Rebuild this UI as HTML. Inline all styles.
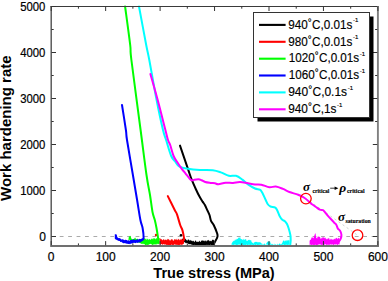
<!DOCTYPE html>
<html><head><meta charset="utf-8"><style>
html,body{margin:0;padding:0;background:#fff;}
svg{display:block;}
text{font-family:"Liberation Sans",sans-serif;}
</style></head><body>
<svg width="388" height="281" viewBox="0 0 388 281">
<rect width="388" height="281" fill="#fff"/>
<line x1="51.3" y1="236.5" x2="377" y2="236.5" stroke="#aaa" stroke-width="1" stroke-dasharray="3.8 4.63"/>
<line x1="305.9" y1="198.6" x2="357.5" y2="235.2" stroke="#bbb" stroke-width="0.7" stroke-dasharray="2.2 2.8"/>
<g stroke="none">
<polygon points="182.0,238.1 182.5,238.9 183.0,238.8 183.5,238.0 184.0,238.1 184.5,238.3 185.0,239.1 185.5,238.6 186.0,239.8 186.5,239.8 187.0,240.7 187.5,240.6 188.0,239.3 188.5,239.7 189.0,239.6 189.5,240.7 190.0,240.6 190.5,239.7 191.0,241.0 191.5,240.4 192.0,240.7 192.5,241.5 193.0,240.5 193.5,241.1 194.0,241.6 194.5,242.2 195.0,241.1 195.5,240.6 196.0,240.4 196.5,241.9 197.0,242.1 197.5,241.8 198.0,241.6 198.5,242.1 199.0,241.4 199.5,240.6 200.0,241.8 200.5,242.1 201.0,241.2 201.5,240.4 202.0,240.6 202.5,240.4 203.0,240.5 203.5,240.9 204.0,240.3 204.5,241.1 205.0,241.6 205.5,240.5 206.0,240.6 206.5,241.8 207.0,240.2 207.5,240.2 208.0,240.9 208.5,239.7 209.0,240.3 209.5,241.5 210.0,240.5 210.5,240.9 211.0,241.3 211.5,241.2 212.0,240.3 212.5,239.7 213.0,239.6 213.5,239.9 214.0,240.2 214.0,245.0 213.5,245.0 213.0,244.9 212.5,245.5 212.0,245.1 211.5,245.5 211.0,245.5 210.5,244.5 210.0,245.1 209.5,245.3 209.0,245.1 208.5,245.0 208.0,244.8 207.5,245.1 207.0,244.9 206.5,244.8 206.0,245.7 205.5,245.2 205.0,245.7 204.5,245.8 204.0,245.3 203.5,245.8 203.0,245.1 202.5,245.7 202.0,245.0 201.5,245.4 201.0,245.7 200.5,245.2 200.0,246.1 199.5,245.7 199.0,245.7 198.5,246.0 198.0,245.4 197.5,245.5 197.0,245.2 196.5,245.4 196.0,245.5 195.5,245.3 195.0,245.6 194.5,244.8 194.0,244.9 193.5,245.5 193.0,245.1 192.5,245.1 192.0,244.6 191.5,244.8 191.0,244.6 190.5,244.2 190.0,244.0 189.5,244.2 189.0,244.2 188.5,244.3 188.0,243.3 187.5,243.3 187.0,242.8 186.5,243.1 186.0,243.5 185.5,242.4 185.0,242.9 184.5,241.8 184.0,241.9 183.5,241.8 183.0,241.3 182.5,240.7 182.0,240.6" fill="#000"/>
<polygon points="159.5,238.3 160.0,238.6 160.5,238.5 161.0,239.8 161.5,239.1 162.0,239.4 162.5,240.5 163.0,239.8 163.5,239.1 164.0,239.7 164.5,240.6 165.0,238.9 165.5,239.9 166.0,239.8 166.5,239.7 167.0,240.4 167.5,239.1 168.0,238.8 168.5,239.6 169.0,239.3 169.5,240.3 170.0,240.5 170.5,240.4 171.0,239.3 171.5,239.6 172.0,239.1 172.5,239.4 173.0,240.7 173.5,240.6 174.0,240.6 174.5,239.0 175.0,238.9 175.5,239.6 176.0,240.0 176.5,239.6 177.0,238.5 177.5,240.2 178.0,239.9 178.5,238.8 179.0,239.1 179.5,240.4 180.0,239.3 180.5,239.9 181.0,238.6 181.5,240.1 182.0,238.5 182.5,240.1 183.0,238.8 183.5,238.3 184.0,239.9 184.0,244.2 183.5,243.5 183.0,244.3 182.5,244.6 182.0,244.9 181.5,245.0 181.0,244.3 180.5,244.5 180.0,245.5 179.5,244.8 179.0,245.2 178.5,245.2 178.0,244.7 177.5,245.0 177.0,244.8 176.5,244.9 176.0,244.5 175.5,245.0 175.0,244.3 174.5,244.4 174.0,244.6 173.5,245.4 173.0,244.8 172.5,245.2 172.0,244.7 171.5,244.4 171.0,245.0 170.5,245.3 170.0,245.4 169.5,245.6 169.0,244.7 168.5,245.3 168.0,245.3 167.5,244.8 167.0,245.1 166.5,245.4 166.0,244.2 165.5,244.3 165.0,245.2 164.5,244.2 164.0,244.2 163.5,244.0 163.0,244.5 162.5,245.1 162.0,244.0 161.5,244.3 161.0,244.1 160.5,244.9 160.0,244.3 159.5,244.1" fill="#f00"/>
<polygon points="128.5,239.1 129.0,235.9 129.5,236.8 130.0,235.8 130.5,235.9 131.0,237.4 131.5,238.8 132.0,239.1 132.5,239.4 133.0,238.9 133.5,238.9 134.0,238.8 134.5,238.4 135.0,237.6 135.5,238.1 136.0,239.3 136.5,238.7 137.0,239.3 137.5,238.6 138.0,239.0 138.5,240.0 139.0,239.6 139.5,240.3 140.0,239.7 140.5,239.5 141.0,239.4 141.5,239.5 142.0,239.9 142.5,240.3 143.0,239.5 143.5,240.0 144.0,238.5 144.5,238.3 145.0,238.3 145.5,239.6 146.0,238.3 146.5,239.4 147.0,239.9 147.5,238.6 148.0,239.0 148.5,240.3 149.0,238.7 149.5,239.5 150.0,238.9 150.5,239.9 151.0,239.5 151.5,238.3 152.0,239.5 152.5,238.3 153.0,239.7 153.5,238.3 154.0,238.1 154.5,238.5 155.0,238.7 155.5,239.5 156.0,238.0 156.5,238.8 157.0,237.8 157.5,238.9 158.0,237.6 158.5,238.9 159.0,238.0 159.5,238.1 159.5,243.4 159.0,243.8 158.5,244.0 158.0,244.5 157.5,244.0 157.0,243.6 156.5,244.4 156.0,244.8 155.5,244.0 155.0,244.9 154.5,244.0 154.0,244.8 153.5,244.2 153.0,245.0 152.5,245.0 152.0,244.4 151.5,244.2 151.0,244.3 150.5,243.7 150.0,244.1 149.5,244.2 149.0,244.4 148.5,245.0 148.0,244.6 147.5,245.3 147.0,245.4 146.5,244.5 146.0,245.3 145.5,245.3 145.0,244.8 144.5,244.1 144.0,244.2 143.5,243.6 143.0,244.4 142.5,243.4 142.0,244.0 141.5,243.9 141.0,243.3 140.5,243.4 140.0,243.0 139.5,242.8 139.0,243.1 138.5,242.6 138.0,242.2 137.5,242.4 137.0,242.5 136.5,242.1 136.0,242.0 135.5,241.7 135.0,241.9 134.5,241.1 134.0,240.8 133.5,241.4 133.0,241.7 132.5,241.6 132.0,241.0 131.5,241.5 131.0,240.6 130.5,240.6 130.0,240.1 129.5,239.8 129.0,240.4 128.5,240.5" fill="#0f0"/>
<polygon points="114.8,234.3 115.3,234.4 115.8,234.1 116.3,234.3 116.8,235.0 117.3,237.2 117.8,237.6 118.3,238.2 118.8,238.1 119.3,238.1 119.8,238.2 120.3,238.8 120.8,238.5 121.3,239.4 121.8,239.4 122.3,239.3 122.8,239.3 123.3,239.8 123.8,239.6 124.3,240.2 124.8,240.0 125.3,239.7 125.8,239.8 126.3,240.0 126.8,239.9 127.3,240.8 127.8,240.3 128.3,240.4 128.8,240.2 129.3,240.3 129.8,240.9 130.3,240.1 130.8,240.1 131.3,239.7 131.8,240.1 132.3,239.8 132.8,239.5 133.3,239.5 133.8,239.4 134.3,239.6 134.8,239.8 135.3,239.9 135.8,239.8 136.3,239.5 136.8,240.0 137.3,239.6 137.8,238.9 138.3,239.6 138.8,239.4 139.3,238.7 139.8,239.0 140.3,239.2 140.8,238.9 141.3,238.9 141.8,238.3 142.3,238.1 142.8,238.0 142.8,241.0 142.3,240.8 141.8,240.8 141.3,241.7 140.8,242.2 140.3,242.3 139.8,242.4 139.3,242.2 138.8,242.6 138.3,242.6 137.8,242.9 137.3,242.8 136.8,242.4 136.3,242.7 135.8,243.3 135.3,243.1 134.8,243.1 134.3,242.8 133.8,242.7 133.3,243.1 132.8,243.1 132.3,243.4 131.8,243.5 131.3,243.4 130.8,243.5 130.3,244.2 129.8,243.8 129.3,244.3 128.8,243.9 128.3,243.9 127.8,243.6 127.3,243.9 126.8,244.0 126.3,243.2 125.8,243.7 125.3,243.0 124.8,243.1 124.3,243.3 123.8,243.3 123.3,243.3 122.8,242.7 122.3,242.8 121.8,242.2 121.3,241.7 120.8,241.9 120.3,241.9 119.8,241.1 119.3,240.9 118.8,240.9 118.3,240.8 117.8,240.6 117.3,240.3 116.8,240.0 116.3,239.7 115.8,239.2 115.3,239.6 114.8,238.6" fill="#00f"/>
<polygon points="231.6,243.4 232.1,242.8 232.6,241.8 233.1,241.6 233.6,240.7 234.1,240.8 234.6,240.7 235.1,239.1 235.6,240.2 236.1,239.9 236.6,239.1 237.1,238.8 237.6,239.1 238.1,238.6 238.6,237.3 239.1,238.2 239.6,237.6 240.1,236.7 240.6,238.7 241.1,239.4 241.6,239.1 242.1,239.1 242.6,240.0 243.1,240.2 243.6,238.4 244.1,240.1 244.6,239.5 245.1,239.2 245.6,239.3 246.1,239.3 246.6,241.0 247.1,240.8 247.6,241.0 248.1,239.7 248.6,240.3 249.1,239.4 249.6,240.3 250.1,239.9 250.6,240.5 251.1,240.1 251.6,242.1 252.1,242.6 252.6,242.9 253.1,242.2 253.6,243.9 254.1,242.6 254.6,242.3 255.1,241.8 255.6,242.0 256.1,241.8 256.6,242.1 257.1,241.7 257.6,242.6 258.1,241.9 258.6,242.4 259.1,242.0 259.6,242.3 260.1,242.7 260.6,242.1 261.1,243.7 261.6,243.2 262.1,243.2 262.6,244.9 263.1,244.5 263.6,244.3 264.1,243.5 264.6,243.6 265.1,244.2 265.6,245.0 266.1,244.0 266.6,242.8 267.1,242.5 267.6,241.6 268.1,241.7 268.6,241.6 269.1,241.4 269.6,241.7 270.1,241.6 270.6,243.8 271.1,243.4 271.6,244.6 272.1,243.7 272.6,244.0 273.1,245.1 273.6,244.9 274.1,243.3 274.6,245.0 275.1,244.4 275.6,244.0 276.1,244.9 276.6,245.1 277.1,243.4 277.6,244.2 278.1,245.1 278.6,244.5 279.1,244.1 279.6,243.3 280.1,243.7 280.6,244.5 281.1,243.5 281.6,244.5 282.1,243.1 282.6,242.3 283.1,240.4 283.6,240.8 284.1,240.2 284.6,241.5 285.1,241.3 285.6,240.0 286.1,241.4 286.6,240.1 287.1,240.5 287.6,240.3 288.1,240.8 288.6,239.9 289.1,240.1 289.6,240.8 289.6,244.6 289.1,244.9 288.6,244.4 288.1,245.5 287.6,244.7 287.1,245.2 286.6,244.4 286.1,245.2 285.6,244.7 285.1,245.0 284.6,245.2 284.1,245.0 283.6,244.4 283.1,244.7 282.6,245.1 282.1,244.5 281.6,245.2 281.1,244.7 280.6,244.8 280.1,245.5 279.6,245.3 279.1,245.1 278.6,245.3 278.1,245.3 277.6,245.2 277.1,244.6 276.6,244.7 276.1,245.4 275.6,245.5 275.1,244.4 274.6,245.0 274.1,245.3 273.6,244.4 273.1,245.4 272.6,244.9 272.1,244.7 271.6,244.7 271.1,245.2 270.6,244.6 270.1,244.7 269.6,244.8 269.1,245.0 268.6,244.9 268.1,245.5 267.6,244.7 267.1,244.5 266.6,244.5 266.1,244.6 265.6,245.6 265.1,244.7 264.6,245.5 264.1,244.6 263.6,244.9 263.1,244.8 262.6,244.7 262.1,245.3 261.6,244.8 261.1,244.6 260.6,244.5 260.1,245.2 259.6,244.9 259.1,244.5 258.6,245.1 258.1,245.5 257.6,245.4 257.1,245.5 256.6,244.6 256.1,244.7 255.6,245.5 255.1,245.4 254.6,244.5 254.1,244.9 253.6,245.1 253.1,244.9 252.6,244.7 252.1,245.3 251.6,244.5 251.1,245.3 250.6,245.4 250.1,244.8 249.6,244.8 249.1,245.0 248.6,244.4 248.1,245.5 247.6,245.2 247.1,245.0 246.6,244.6 246.1,245.0 245.6,245.1 245.1,245.5 244.6,244.7 244.1,245.6 243.6,245.0 243.1,245.5 242.6,244.6 242.1,244.5 241.6,245.0 241.1,244.7 240.6,245.2 240.1,244.7 239.6,244.4 239.1,244.8 238.6,244.7 238.1,244.5 237.6,245.1 237.1,245.2 236.6,244.9 236.1,245.6 235.6,244.6 235.1,244.7 234.6,244.7 234.1,244.5 233.6,245.0 233.1,245.3 232.6,244.4 232.1,245.2 231.6,245.2" fill="#0ff"/>
<polygon points="309.6,241.1 310.1,239.8 310.6,240.0 311.1,239.1 311.6,237.4 312.1,237.2 312.6,237.8 313.1,237.6 313.6,238.6 314.1,236.2 314.6,234.9 315.1,233.2 315.6,233.8 316.1,237.4 316.6,237.9 317.1,238.7 317.6,236.4 318.1,236.7 318.6,236.4 319.1,236.6 319.6,236.9 320.1,237.3 320.6,238.8 321.1,238.9 321.6,237.6 322.1,238.5 322.6,236.9 323.1,237.5 323.6,237.0 324.1,238.4 324.6,237.3 325.1,238.4 325.6,237.3 326.1,239.4 326.6,239.1 327.1,238.3 327.6,239.6 328.1,238.3 328.6,238.5 329.1,237.9 329.6,239.8 330.1,239.9 330.6,238.5 331.1,239.9 331.6,238.8 332.1,238.9 332.6,239.9 333.1,239.6 333.6,239.6 334.1,239.2 334.6,238.6 335.1,239.5 335.6,238.3 336.1,238.3 336.6,237.8 337.1,238.3 337.6,239.3 338.1,238.0 338.6,237.7 339.1,238.9 339.6,238.0 339.6,244.4 339.1,244.5 338.6,244.5 338.1,244.0 337.6,245.1 337.1,245.1 336.6,244.6 336.1,244.0 335.6,244.9 335.1,244.1 334.6,244.4 334.1,244.4 333.6,244.9 333.1,244.9 332.6,244.2 332.1,244.6 331.6,244.3 331.1,245.2 330.6,244.6 330.1,244.1 329.6,244.8 329.1,245.0 328.6,244.4 328.1,245.0 327.6,244.8 327.1,244.4 326.6,245.2 326.1,244.4 325.6,244.2 325.1,244.2 324.6,245.1 324.1,244.2 323.6,244.6 323.1,245.3 322.6,244.8 322.1,244.7 321.6,245.2 321.1,244.5 320.6,244.4 320.1,244.6 319.6,244.2 319.1,244.6 318.6,244.7 318.1,244.3 317.6,245.4 317.1,244.7 316.6,245.5 316.1,245.4 315.6,244.8 315.1,244.4 314.6,245.5 314.1,244.8 313.6,245.5 313.1,244.8 312.6,244.6 312.1,245.5 311.6,245.3 311.1,244.7 310.6,244.8 310.1,244.6 309.6,245.3" fill="#f0f"/>
</g>
<g fill="none" stroke-width="2" stroke-linejoin="round" stroke-linecap="round">
<circle cx="181" cy="235.2" r="1.3" fill="#000" stroke="none"/>
<circle cx="156" cy="235" r="1.2" fill="#f00" stroke="none"/>
<path d="M180.00,145.60C181.35,149.57 186.15,163.72 188.10,169.40C190.05,175.08 190.38,176.35 191.70,179.70C193.02,183.05 194.70,186.68 196.00,189.50C197.30,192.32 198.40,194.58 199.50,196.60C200.60,198.62 201.70,200.18 202.60,201.60C203.50,203.02 204.10,203.63 204.90,205.10C205.70,206.57 206.63,208.75 207.40,210.40C208.17,212.05 208.90,213.27 209.50,215.00C210.10,216.73 210.30,219.13 211.00,220.80C211.70,222.47 212.72,223.02 213.70,225.00C214.68,226.98 216.27,230.77 216.90,232.70C217.53,234.63 217.82,235.08 217.50,236.60C217.18,238.12 215.67,240.48 215.00,241.80C214.33,243.12 213.75,244.05 213.50,244.50" stroke="#000"/>
<path d="M167.80,196.10C168.95,198.42 173.17,206.95 174.70,210.00C176.23,213.05 176.08,211.90 177.00,214.40C177.92,216.90 179.30,222.38 180.20,225.00C181.10,227.62 181.77,227.95 182.40,230.10C183.03,232.25 183.73,236.25 184.00,237.90C184.27,239.55 184.00,239.65 184.00,240.00" stroke="#f00"/>
<path d="M125.10,6.50C125.95,12.92 129.15,36.08 130.20,45.00C131.25,53.92 129.67,45.83 131.40,60.00C133.13,74.17 138.08,110.83 140.60,130.00C143.12,149.17 144.93,164.17 146.50,175.00C148.07,185.83 149.00,188.83 150.00,195.00C151.00,201.17 151.70,207.83 152.50,212.00C153.30,216.17 154.13,217.33 154.80,220.00C155.47,222.67 155.97,225.12 156.50,228.00C157.03,230.88 157.70,235.30 158.00,237.30C158.30,239.30 158.25,239.55 158.30,240.00" stroke="#0f0"/>
<path d="M122.00,105.00C122.65,109.17 125.07,124.17 125.90,130.00C126.73,135.83 125.83,132.50 127.00,140.00C128.17,147.50 131.22,165.00 132.90,175.00C134.58,185.00 135.85,192.50 137.10,200.00C138.35,207.50 139.48,215.33 140.40,220.00C141.32,224.67 142.07,225.03 142.60,228.00C143.13,230.97 143.62,235.83 143.60,237.80C143.58,239.77 143.02,239.33 142.50,239.80C141.98,240.27 140.83,240.47 140.50,240.60" stroke="#00f"/>
<path d="M139.00,6.50C140.20,12.92 144.48,36.08 146.20,45.00C147.92,53.92 147.57,50.83 149.30,60.00C151.03,69.17 154.32,88.33 156.60,100.00C158.88,111.67 161.42,123.33 163.00,130.00C164.58,136.67 164.73,135.67 166.10,140.00C167.47,144.33 169.72,152.47 171.20,156.00C172.68,159.53 173.67,159.47 175.00,161.20C176.33,162.93 177.03,165.13 179.20,166.40C181.37,167.67 184.53,168.20 188.00,168.80C191.47,169.40 195.87,169.75 200.00,170.00C204.13,170.25 209.33,169.90 212.80,170.30C216.27,170.70 218.13,171.48 220.80,172.40C223.47,173.32 226.27,175.23 228.80,175.80C231.33,176.37 233.73,175.17 236.00,175.80C238.27,176.43 240.40,178.17 242.40,179.60C244.40,181.03 245.90,182.92 248.00,184.40C250.10,185.88 253.03,187.63 255.00,188.50C256.97,189.37 258.60,188.93 259.80,189.60C261.00,190.27 261.22,190.77 262.20,192.50C263.18,194.23 264.73,198.00 265.70,200.00C266.67,202.00 267.20,203.42 268.00,204.50C268.80,205.58 269.28,205.98 270.50,206.50C271.72,207.02 274.13,206.85 275.30,207.60C276.47,208.35 276.78,209.60 277.50,211.00C278.22,212.40 278.85,214.58 279.60,216.00C280.35,217.42 281.12,218.62 282.00,219.50C282.88,220.38 284.07,220.55 284.90,221.30C285.73,222.05 286.37,222.80 287.00,224.00C287.63,225.20 288.13,226.63 288.70,228.50C289.27,230.37 290.07,233.28 290.40,235.20C290.73,237.12 290.72,238.45 290.70,240.00C290.68,241.55 290.37,243.75 290.30,244.50" stroke="#0ff"/>
<path d="M150.40,73.90C151.62,78.25 155.20,90.65 157.70,100.00C160.20,109.35 163.68,123.33 165.40,130.00C167.12,136.67 167.20,137.50 168.00,140.00C168.80,142.50 169.27,142.33 170.20,145.00C171.13,147.67 172.38,153.08 173.60,156.00C174.82,158.92 176.13,160.35 177.50,162.50C178.87,164.65 180.48,167.08 181.80,168.90C183.12,170.72 184.20,171.90 185.40,173.40C186.60,174.90 187.95,176.73 189.00,177.90C190.05,179.07 190.80,180.10 191.70,180.40C192.60,180.70 193.27,179.88 194.40,179.70C195.53,179.52 197.30,179.22 198.50,179.30C199.70,179.38 200.48,179.75 201.60,180.20C202.72,180.65 203.68,181.55 205.20,182.00C206.72,182.45 209.07,182.68 210.70,182.90C212.33,183.12 213.72,183.08 215.00,183.30C216.28,183.52 216.63,184.28 218.40,184.20C220.17,184.12 223.17,183.02 225.60,182.80C228.03,182.58 230.60,183.03 233.00,182.90C235.40,182.77 237.50,181.93 240.00,182.00C242.50,182.07 245.50,182.90 248.00,183.30C250.50,183.70 252.77,184.17 255.00,184.40C257.23,184.63 259.00,184.22 261.40,184.70C263.80,185.18 267.00,187.00 269.40,187.30C271.80,187.60 273.53,186.23 275.80,186.50C278.07,186.77 280.73,187.98 283.00,188.90C285.27,189.82 286.87,191.02 289.40,192.00C291.93,192.98 295.67,193.80 298.20,194.80C300.73,195.80 302.63,196.72 304.60,198.00C306.57,199.28 308.77,201.45 310.00,202.50C311.23,203.55 311.02,203.55 312.00,204.30C312.98,205.05 314.60,206.12 315.90,207.00C317.20,207.88 318.62,209.07 319.80,209.60C320.98,210.13 322.22,209.85 323.00,210.20C323.78,210.55 323.72,210.78 324.50,211.70C325.28,212.62 326.25,214.07 327.70,215.70C329.15,217.33 332.07,220.28 333.20,221.50C334.33,222.72 333.97,222.43 334.50,223.00C335.03,223.57 335.85,223.98 336.40,224.90C336.95,225.82 337.22,227.55 337.80,228.50C338.38,229.45 339.30,229.60 339.90,230.60C340.50,231.60 341.25,233.18 341.40,234.50C341.55,235.82 341.20,237.35 340.80,238.50C340.40,239.65 339.30,240.92 339.00,241.40" stroke="#f0f"/>
</g>
<line x1="50.5" y1="6.5" x2="378.8" y2="6.5" stroke="#3a3a3a" stroke-width="1.1"/>
<line x1="51.2" y1="6" x2="51.2" y2="246.9" stroke="#505050" stroke-width="1.4"/>
<line x1="377.9" y1="6" x2="377.9" y2="246.9" stroke="#808080" stroke-width="1.9"/>
<line x1="50.5" y1="246" x2="378.8" y2="246" stroke="#707070" stroke-width="1.9"/>
<path d="M51.20,245.3v-4.2M51.20,6.5v4.5M78.43,245.3v-1.9000000000000001M78.43,6.5v2.2M105.65,245.3v-4.2M105.65,6.5v4.5M132.88,245.3v-1.9000000000000001M132.88,6.5v2.2M160.10,245.3v-4.2M160.10,6.5v4.5M187.32,245.3v-1.9000000000000001M187.32,6.5v2.2M214.55,245.3v-4.2M214.55,6.5v4.5M241.77,245.3v-1.9000000000000001M241.77,6.5v2.2M269.00,245.3v-4.2M269.00,6.5v4.5M296.23,245.3v-1.9000000000000001M296.23,6.5v2.2M323.45,245.3v-4.2M323.45,6.5v4.5M350.68,245.3v-1.9000000000000001M350.68,6.5v2.2M377.90,245.3v-4.2M377.90,6.5v4.5M51.5,236.50h4.5M377.3,236.50h-4.5M51.5,213.50h2.2M377.3,213.50h-2.2M51.5,190.50h4.5M377.3,190.50h-4.5M51.5,167.50h2.2M377.3,167.50h-2.2M51.5,144.50h4.5M377.3,144.50h-4.5M51.5,121.50h2.2M377.3,121.50h-2.2M51.5,98.50h4.5M377.3,98.50h-4.5M51.5,75.50h2.2M377.3,75.50h-2.2M51.5,52.50h4.5M377.3,52.50h-4.5M51.5,29.50h2.2M377.3,29.50h-2.2M51.5,6.50h4.5M377.3,6.50h-4.5" stroke="#333" stroke-width="1" fill="none"/>
<g font-size="12" fill="#000" stroke="#000" stroke-width="0.2"><text x="51.20" y="260.8" text-anchor="middle">0</text><text x="105.65" y="260.8" text-anchor="middle">100</text><text x="160.10" y="260.8" text-anchor="middle">200</text><text x="214.55" y="260.8" text-anchor="middle">300</text><text x="269.00" y="260.8" text-anchor="middle">400</text><text x="323.45" y="260.8" text-anchor="middle">500</text><text x="377.90" y="260.8" text-anchor="middle">600</text><text x="46" y="240.60" text-anchor="end">0</text><text x="45.4" y="194.50" text-anchor="end" textLength="25.2" lengthAdjust="spacingAndGlyphs">1000</text><text x="45.4" y="148.50" text-anchor="end" textLength="25.2" lengthAdjust="spacingAndGlyphs">2000</text><text x="45.4" y="102.50" text-anchor="end" textLength="25.2" lengthAdjust="spacingAndGlyphs">3000</text><text x="45.4" y="56.50" text-anchor="end" textLength="25.2" lengthAdjust="spacingAndGlyphs">4000</text><text x="45.4" y="10.50" text-anchor="end" textLength="25.2" lengthAdjust="spacingAndGlyphs">5000</text></g>
<text x="153.3" y="277.7" font-size="14.5" font-weight="bold" textLength="121.4" lengthAdjust="spacingAndGlyphs">True stress (MPa)</text>
<text transform="translate(10.8,201) rotate(-90)" font-size="14.5" font-weight="bold" textLength="145.6" lengthAdjust="spacingAndGlyphs">Work hardening rate</text>
<rect x="257.5" y="16.5" width="116" height="105" fill="#000"/>
<rect x="253.5" y="12.5" width="116" height="105" fill="#fff" stroke="#333" stroke-width="1"/>
<g font-size="12.2" fill="#000" stroke="#000" stroke-width="0.15"><line x1="259" y1="24.9" x2="285.6" y2="24.9" stroke="#000" stroke-width="2.1"/><text x="288.2" y="28.6" textLength="64.1" lengthAdjust="spacingAndGlyphs">940<tspan dy="-3" font-size="10">°</tspan><tspan dy="3" dx="0.4">C,0.01s</tspan></text><text x="352.9" y="22.3" font-size="6">-1</text><line x1="259" y1="41.8" x2="285.6" y2="41.8" stroke="#f00" stroke-width="2.1"/><text x="288.2" y="45.5" textLength="64.1" lengthAdjust="spacingAndGlyphs">980<tspan dy="-3" font-size="10">°</tspan><tspan dy="3" dx="0.4">C,0.01s</tspan></text><text x="352.9" y="39.2" font-size="6">-1</text><line x1="259" y1="58.7" x2="285.6" y2="58.7" stroke="#0f0" stroke-width="2.1"/><text x="288.8" y="62.4" textLength="70.4" lengthAdjust="spacingAndGlyphs">1020<tspan dy="-3" font-size="10">°</tspan><tspan dy="3" dx="0.4">C,0.01s</tspan></text><text x="359.8" y="56.1" font-size="6">-1</text><line x1="259" y1="75.5" x2="285.6" y2="75.5" stroke="#00f" stroke-width="2.1"/><text x="288.8" y="79.3" textLength="70.4" lengthAdjust="spacingAndGlyphs">1060<tspan dy="-3" font-size="10">°</tspan><tspan dy="3" dx="0.4">C,0.01s</tspan></text><text x="359.8" y="73.0" font-size="6">-1</text><line x1="259" y1="92.4" x2="285.6" y2="92.4" stroke="#0ff" stroke-width="2.1"/><text x="288.2" y="96.2" textLength="58.9" lengthAdjust="spacingAndGlyphs">940<tspan dy="-3" font-size="10">°</tspan><tspan dy="3" dx="0.4">C,0.1s</tspan></text><text x="347.7" y="89.9" font-size="6">-1</text><line x1="259" y1="109.3" x2="285.6" y2="109.3" stroke="#f0f" stroke-width="2.1"/><text x="288.2" y="113.1" textLength="48.3" lengthAdjust="spacingAndGlyphs">940<tspan dy="-3" font-size="10">°</tspan><tspan dy="3" dx="0.4">C,1s</tspan></text><text x="337.1" y="106.8" font-size="6">-1</text></g>
<circle cx="305.9" cy="198.6" r="5.3" fill="none" stroke="#f00" stroke-width="1.3"/>
<circle cx="357.5" cy="235.2" r="5.3" fill="none" stroke="#f00" stroke-width="1.3"/>
<g fill="#000">
<text x="303.1" y="190.5" font-size="13" font-style="italic" style="font-family:'Liberation Serif',serif;font-weight:bold">σ</text>
<text x="312.5" y="193" font-size="7" style="font-family:'Liberation Serif',serif;font-weight:bold" stroke="#000" stroke-width="0.15" textLength="16.9" lengthAdjust="spacingAndGlyphs">critical</text>
<path d="M330.2,188.2h5.2" stroke="#000" stroke-width="0.8"/>
<path d="M334.6,186.5L338.4,188.2L334.6,189.9Z"/>
<text x="339.3" y="191.6" font-size="13.5" font-style="italic" style="font-family:'Liberation Serif',serif;font-weight:bold">ρ</text>
<text x="346.9" y="193" font-size="7" style="font-family:'Liberation Serif',serif;font-weight:bold" stroke="#000" stroke-width="0.15" textLength="17.8" lengthAdjust="spacingAndGlyphs">critical</text>
<text x="337.9" y="221.3" font-size="13" font-style="italic" style="font-family:'Liberation Serif',serif;font-weight:bold">σ</text>
<text x="345.5" y="222.7" font-size="6.3" style="font-family:'Liberation Serif',serif;font-weight:bold" stroke="#000" stroke-width="0.15" textLength="25.3" lengthAdjust="spacingAndGlyphs">saturation</text>
</g>
</svg>
</body></html>
